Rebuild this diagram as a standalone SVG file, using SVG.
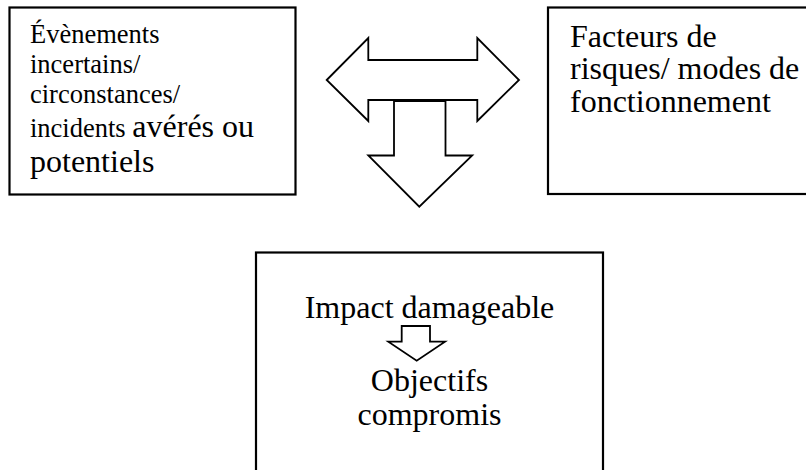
<svg xmlns="http://www.w3.org/2000/svg" width="806" height="470" viewBox="0 0 806 470">
<style>
.box{fill:#fff;stroke:#000;stroke-width:2.2}
.arr{fill:#fff;stroke:#000;stroke-width:1.8;stroke-linejoin:miter}
text{font-family:"Liberation Serif","Times New Roman","DejaVu Serif",serif;fill:#000}
.s{font-size:26.5px}
.b{font-size:32px}
</style>
<rect width="806" height="470" fill="#fff"/>
<g id="node-evenements">
<rect class="box" x="9.5" y="7.5" width="286" height="187"/>
<text x="30" y="43" class="s">Évènements</text>
<text x="30" y="72.7" class="s">incertains/</text>
<text x="30" y="102.5" class="s">circonstances/</text>
<text x="30" y="137" class="s">incidents <tspan class="b">avérés ou</tspan></text>
<text x="30" y="172" class="b">potentiels</text>
</g>
<g id="node-facteurs">
<rect class="box" x="548" y="7.5" width="270" height="186.5"/>
<text x="570" y="46.7" class="b">Facteurs de</text>
<text x="570" y="79.2" class="b">risques/ modes de</text>
<text x="570" y="111.7" class="b">fonctionnement</text>
</g>
<g id="node-impact">
<rect class="box" x="256" y="252.5" width="347" height="230"/>
<text x="429.5" y="317.5" class="b" text-anchor="middle">Impact damageable</text>
<polygon class="arr" points="401.7,326 430,326 430,341.7 445,341.7 416.7,360.7 388.3,341.7 401.7,341.7"/>
<text x="429.5" y="391" class="b" text-anchor="middle">Objectifs</text>
<text x="429.5" y="424.5" class="b" text-anchor="middle">compromis</text>
</g>
<g id="connectors">
<polygon class="arr" points="326.7,80 368.3,38 368.3,60 477.3,60 477.3,38 519,80 477.3,121 477.3,100 368.3,100 368.3,121"/>
<polygon class="arr" points="394,101 445.5,101 445.5,155.5 472.2,155.5 419.3,206.7 368.3,155.5 394,155.5"/>
</g>
</svg>
